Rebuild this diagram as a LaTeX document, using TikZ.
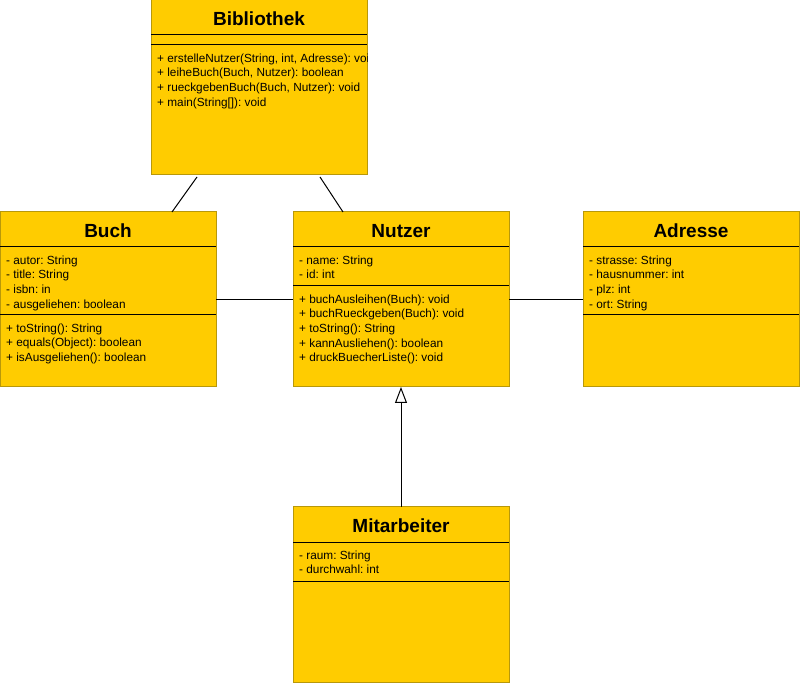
\documentclass[tikz,border=0pt]{standalone}
\usepackage{fontspec}
\setmainfont{Liberation Sans}
\usetikzlibrary{arrows.meta, positioning}
\definecolor{umlfill}{HTML}{FFCC00}
\definecolor{umledge}{HTML}{B8980A}
\frenchspacing

\begin{document}
\begin{tikzpicture}[
    x=1pt, y=-1pt,
    cls/.style={draw=umledge, fill=umlfill, line width=1pt, minimum width=216pt,
                minimum height=175pt, inner sep=0pt, outer sep=0pt, anchor=north west},
    cname/.style={font=\fontsize{19}{22}\selectfont\bfseries, inner sep=0pt},
    members/.style={font=\fontsize{11.8}{14.6}\selectfont, align=left,
                    anchor=north west, inner sep=0pt},
    sep/.style={line width=1pt, black},
    assoc/.style={line width=1pt},
    inherit/.style={line width=1pt, -{Triangle[open, length=16pt, width=12pt, fill=white]}},
]
    \useasboundingbox[fill=white] (0,0) rectangle (801,684);
    % classes
    \node[cls] (bib) at (151,0) {};
    \node[cls] (buch) at (0,212) {};
    \node[cls, right=77pt of buch] (nutzer) {};
    \node[cls, right=74pt of nutzer] (adr) {};
    \node[cls, below=120pt of nutzer] (mit) {};

    % Bibliothek
    \node[cname] (bibT) at ([yshift=-19pt]bib.north) {Bibliothek};
    \draw[sep] ([yshift=-35pt]bib.north west) -- ([yshift=-35pt]bib.north east);
    \draw[sep] ([yshift=-45pt]bib.north west) -- ([yshift=-45pt]bib.north east);
    \begin{scope}
      \clip (bib.north west) rectangle (bib.south east);
      \node[members] (bibM) at ([xshift=6pt, yshift=-53.5pt]bib.north west)
        {+ erstelleNutzer(String, int, Adresse): void\\
         + leiheBuch(Buch, Nutzer): boolean\\
         + rueckgebenBuch(Buch, Nutzer): void\\
         + main(String[]): void};
    \end{scope}

    % Buch
    \node[cname] (buchT) at ([yshift=-19pt]buch.north) {Buch};
    \draw[sep] ([yshift=-35pt]buch.north west) -- ([yshift=-35pt]buch.north east);
    \node[members] (buchA) at ([xshift=6pt, yshift=-43.5pt]buch.north west)
      {- autor: String\\ - title: String\\ - isbn: in\\ - ausgeliehen: boolean};
    \draw[sep] ([yshift=-103pt]buch.north west) -- ([yshift=-103pt]buch.north east);
    \node[members] (buchM) at ([xshift=6pt, yshift=-111.5pt]buch.north west)
      {+ toString(): String\\ + equals(Object): boolean\\ + isAusgeliehen(): boolean};

    % Nutzer
    \node[cname] (nutzerT) at ([yshift=-19pt]nutzer.north) {Nutzer};
    \draw[sep] ([yshift=-35pt]nutzer.north west) -- ([yshift=-35pt]nutzer.north east);
    \node[members] (nutzerA) at ([xshift=6pt, yshift=-43.5pt]nutzer.north west)
      {- name: String\\ - id: int};
    \draw[sep] ([yshift=-74pt]nutzer.north west) -- ([yshift=-74pt]nutzer.north east);
    \node[members] (nutzerM) at ([xshift=6pt, yshift=-82.5pt]nutzer.north west)
      {+ buchAusleihen(Buch): void\\ + buchRueckgeben(Buch): void\\
       + toString(): String\\ + kannAusliehen(): boolean\\ + druckBuecherListe(): void};

    % Adresse
    \node[cname] (adrT) at ([yshift=-19pt]adr.north) {Adresse};
    \draw[sep] ([yshift=-35pt]adr.north west) -- ([yshift=-35pt]adr.north east);
    \node[members] (adrA) at ([xshift=6pt, yshift=-43.5pt]adr.north west)
      {- strasse: String\\ - hausnummer: int\\ - plz: int\\ - ort: String};
    \draw[sep] ([yshift=-103pt]adr.north west) -- ([yshift=-103pt]adr.north east);

    % Mitarbeiter
    \node[cname] (mitT) at ([yshift=-19pt]mit.north) {Mitarbeiter};
    \draw[sep] ([yshift=-35pt]mit.north west) -- ([yshift=-35pt]mit.north east);
    \node[members] (mitA) at ([xshift=6pt, yshift=-43.5pt]mit.north west)
      {- raum: String\\ - durchwahl: int};
    \draw[sep] ([yshift=-74pt]mit.north west) -- ([yshift=-74pt]mit.north east);

    % relations
    \draw[assoc] ([xshift=-62pt, yshift=-2pt]bib.south) -- ([xshift=64pt]buch.north);
    \draw[assoc] ([xshift=61pt, yshift=-2pt]bib.south) -- ([xshift=-58pt]nutzer.north);
    \draw[assoc] (buch) -- (nutzer);
    \draw[assoc] (nutzer) -- (adr);
    \draw[inherit] (mit) -- (nutzer);
\end{tikzpicture}
\end{document}
